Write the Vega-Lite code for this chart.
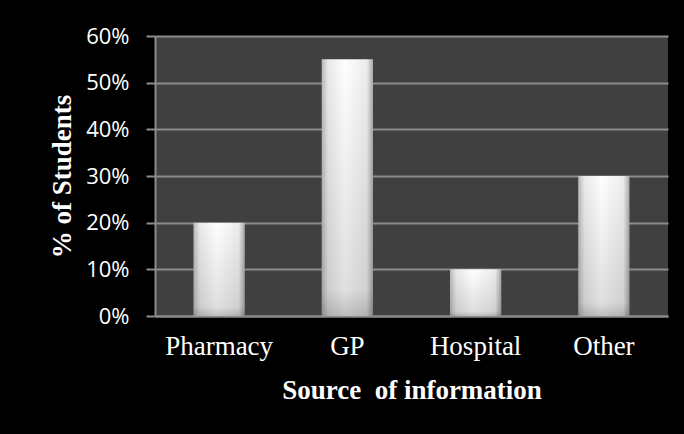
{
  "$schema": "https://vega.github.io/schema/vega-lite/v6.json",
  "autosize": {"type": "none"},
  "padding": {"left": 155, "top": 36, "right": 16, "bottom": 118},
  "width": 513,
  "height": 280,
  "background": "#000000",
  "config": {
    "view": {"fill": "#404040", "stroke": null}
  },
  "data": {
    "values": [
      {"source": "Pharmacy", "pct": 0.20},
      {"source": "GP", "pct": 0.55},
      {"source": "Hospital", "pct": 0.10},
      {"source": "Other", "pct": 0.30}
    ]
  },
  "encoding": {
    "x": {
      "field": "source",
      "type": "nominal",
      "sort": null,
      "scale": {"paddingInner": 0.6, "paddingOuter": 0.3},
      "axis": {
        "title": "Source\u00a0 of information",
        "titleFont": "Liberation Serif",
        "titleFontSize": 27,
        "titleFontWeight": "bold",
        "titleColor": "#ffffff",
        "titlePadding": 18,
        "labelFont": "Liberation Serif",
        "labelFontSize": 27,
        "labelColor": "#ffffff",
        "labelAngle": 0,
        "labelPadding": 17,
        "ticks": false,
        "domainColor": "#8c8c8c",
        "domainWidth": 2
      }
    },
    "y": {
      "field": "pct",
      "type": "quantitative",
      "scale": {"domain": [0, 0.6]},
      "axis": {
        "title": "% of Students",
        "titleFont": "Liberation Serif",
        "titleFontSize": 27,
        "titleFontWeight": "bold",
        "titleColor": "#ffffff",
        "titleX": -93,
        "titleY": 140,
        "titleAlign": "center",
        "titleBaseline": "middle",
        "format": ".0%",
        "values": [0, 0.1, 0.2, 0.3, 0.4, 0.5, 0.6],
        "labelFont": "Open Sans",
        "labelFontSize": 22,
        "labelColor": "#ffffff",
        "labelPadding": 17,
        "tickSize": 9,
        "tickColor": "#8c8c8c",
        "tickWidth": 2,
        "domainColor": "#8c8c8c",
        "domainWidth": 2,
        "gridColor": "#8c8c8c",
        "gridWidth": 2
      }
    }
  },
  "layer": [
    {
      "mark": {
        "type": "bar",
        "fill": {
          "gradient": "linear",
          "x1": 0, "y1": 0, "x2": 1, "y2": 0,
          "stops": [
            {"offset": 0, "color": "#b8b8b8"},
            {"offset": 0.12, "color": "#e8e8e8"},
            {"offset": 0.45, "color": "#ffffff"},
            {"offset": 0.88, "color": "#ececec"},
            {"offset": 1, "color": "#a8a8a8"}
          ]
        }
      }
    },
    {
      "mark": {
        "type": "bar",
        "fill": {
          "gradient": "linear",
          "x1": 0, "y1": 0, "x2": 0, "y2": 1,
          "stops": [
            {"offset": 0, "color": "rgba(0,0,0,0)"},
            {"offset": 0.9, "color": "rgba(0,0,0,0.12)"},
            {"offset": 1, "color": "rgba(0,0,0,0.25)"}
          ]
        }
      }
    }
  ]
}
